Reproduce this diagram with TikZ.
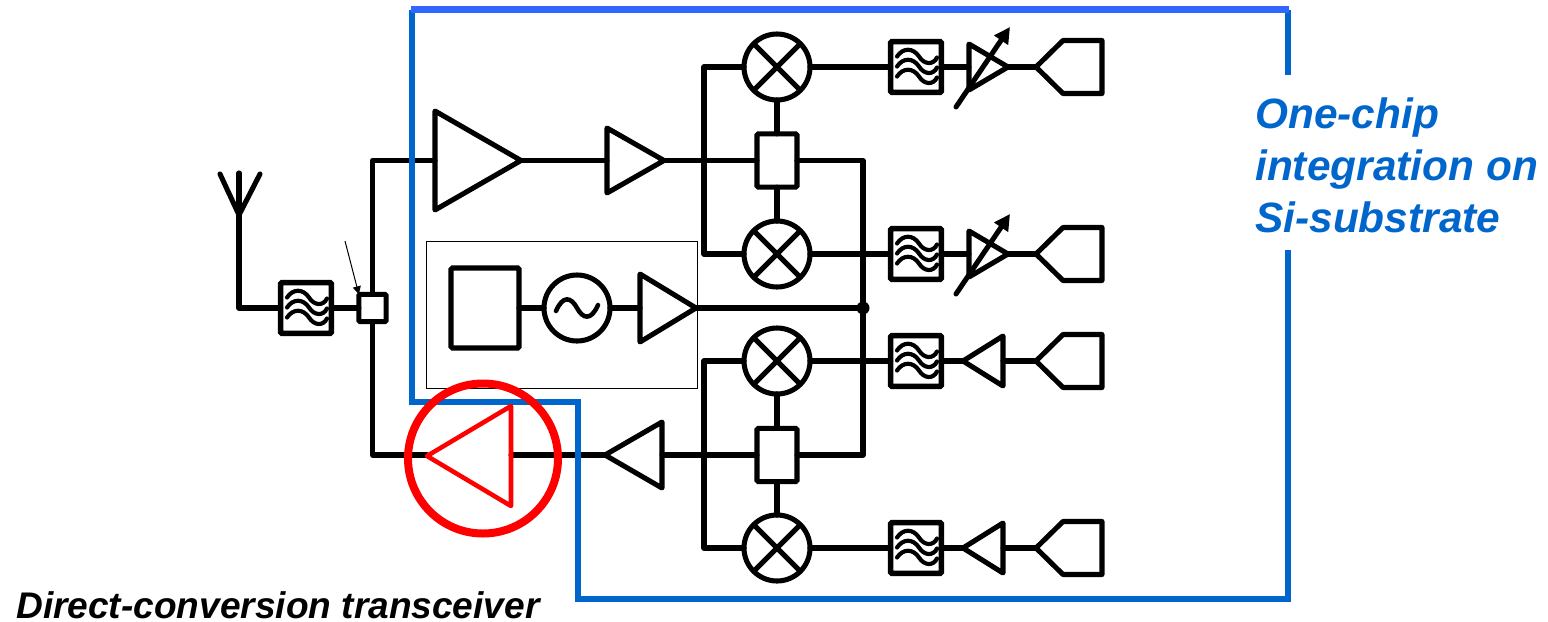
\documentclass[tikz,border=0pt]{standalone}
\usepackage{fontspec}
\setmainfont{Liberation Sans}
\usetikzlibrary{arrows.meta,calc}
\definecolor{chipblue}{HTML}{0066CC}
\definecolor{topblue}{HTML}{3366FF}
\definecolor{hotred}{HTML}{FF0000}
\tikzset{
  x=0.75pt,y=-0.75pt,
  wire/.style={draw=black,line width=3.8pt,line join=round,line cap=round},
  redwire/.style={draw=hotred,line width=3.4pt,line join=round,line cap=round},
  squarebox/.style={draw=black,line width=3.8pt,rounded corners=1pt,inner sep=0pt,outer sep=0pt},
  filterbox/.style={squarebox,line width=4.2pt,minimum width=38pt,minimum height=38pt},
  mixer/.style={circle,draw=black,line width=3.8pt,minimum size=49.5pt,inner sep=0pt,outer sep=0pt},
  chipframe/.style={draw=chipblue,line width=4.2pt,line join=miter},
  wave/.style={draw=black,line width=3.1pt,line cap=round},
  bluetext/.style={text=chipblue,font=\fontsize{31.8pt}{36pt}\selectfont\bfseries\itshape,anchor=base west,inner sep=0pt},
  caption/.style={text=black,font=\fontsize{27.8pt}{32pt}\selectfont\bfseries\itshape,anchor=base west,inner sep=0pt},
}
\newcommand{\ampshape}[6][wire]{%
  \draw[#1] (#3,#6-#4) -- (#5,#6) -- (#3,#6+#4) -- cycle;
  \coordinate (#2-b) at (#3,#6);
  \coordinate (#2-t) at (#5,#6);
}
\newcommand{\portshape}[2]{%
  \draw[wire] (1036,#2) -- (1063,#2-26.5) -- (1102,#2-26.5) -- (1102,#2+26.5) -- (1063,#2+26.5) -- cycle;
  \coordinate (#1) at (1036,#2);
}
\newcommand{\filtershape}[3]{%
  \node[filterbox] (#1) at (#2,#3) {};
  \foreach \dy in {-10.5,-0.5,9.5}{
    \draw[wave] ($(#1)+(-19,\dy)$) .. controls ($(#1)+(-13,\dy-9)$) and ($(#1)+(-3,\dy-9)$) .. ($(#1)+(3,\dy)$)
       .. controls ($(#1)+(8,\dy+8)$) and ($(#1)+(17,\dy+9)$) .. ($(#1)+(21,\dy+1)$);
  }
}
\newcommand{\mixershape}[3]{%
  \node[mixer] (#1) at (#2,#3) {};
  \draw[wire] (#1.45) -- (#1.225);
  \draw[wire] (#1.135) -- (#1.315);
}
\begin{document}
\begin{tikzpicture}
\useasboundingbox (0,0) rectangle (1548,621);
% local oscillator group
\node[draw=black,line width=0.75pt,minimum width=203.25pt,minimum height=110.25pt,inner sep=0pt,outer sep=0pt] (logroup) at (561.5,314.5) {};
% mixers
\mixershape{m1}{777}{67}
\mixershape{m2}{777}{254}
\mixershape{m3}{777}{361}
\mixershape{m4}{777}{548}
% hybrid boxes
\node[squarebox,minimum width=30pt,minimum height=40pt] (hy1) at (777,160.5) {};
\node[squarebox,minimum width=30pt,minimum height=40pt] (hy2) at (777,455) {};
% filters
\filtershape{f0}{306}{308}
\filtershape{f1}{916}{67}
\filtershape{f2}{916}{254}
\filtershape{f3}{916}{361}
\filtershape{f4}{916}{548}
% ports
\portshape{p1}{67}
\portshape{p2}{254}
\portshape{p3}{361}
\portshape{p4}{548}
% amplifiers
\ampshape{lna}{435}{49.5}{521}{160.5}
\ampshape{drv}{607}{32.5}{664}{160.5}
\ampshape{loa}{640}{34}{696}{308}
\ampshape{txd}{662}{33}{605}{455}
\ampshape{b3}{1003}{25}{963}{361}
\ampshape{b4}{1003}{25}{963}{548}
\ampshape{v1}{969}{23}{1008}{67}
\ampshape{v2}{969}{23}{1008}{254}
% gain arrows of the variable amplifiers
\coordinate (v1a) at (956,107);
\coordinate (v1e) at (1010,27);
\coordinate (v2a) at (956,294);
\coordinate (v2e) at (1010,214);
\draw[wire,-{Triangle[length=12pt,width=12pt]}] (v1a) -- (v1e);
\draw[wire,-{Triangle[length=12pt,width=12pt]}] (v2a) -- (v2e);
% antenna
\coordinate (antfoot) at (239,215);
\coordinate (antmid) at (239,173);
\coordinate (antl) at (220,174);
\coordinate (antr) at (260,174);
\coordinate (antcorner) at (239,308);
\draw[wire] (antl) -- (antfoot) -- (antr);
\draw[wire] (antmid) -- (antcorner) -- (f0.west);
% duplexer / switch
\node[squarebox,minimum width=20.5pt,minimum height=20.5pt] (sw) at (372.5,308) {};
\coordinate (swlabel) at (345,241);
\draw[line width=0.75pt,-{Triangle[length=6pt,width=6pt]}] (swlabel) -- (sw.north west);
\draw[wire] (f0.east) -- (sw.west);
\draw[wire] (sw.north) |- (lna-b);
\draw[wire] (lna-t) -- (drv-b);
\draw[wire] (drv-t) -- (hy1.west);
% I/Q distribution
\coordinate (rxsplit) at (704,160.5);
\coordinate (txsplit) at (704,455);
\coordinate (lobus) at (863,308);
\draw[wire] (m1.west) -| (rxsplit) |- (m2.west);
\draw[wire] (m3.west) -| (txsplit) |- (m4.west);
\draw[wire] (hy1.north) -- (m1.south);
\draw[wire] (hy1.south) -- (m2.north);
\draw[wire] (hy2.north) -- (m3.south);
\draw[wire] (hy2.south) -- (m4.north);
\draw[wire] (hy1.east) -| (lobus) |- (hy2.east);
\draw[wire] (m1.east) -- (f1.west);
\draw[wire] (m2.east) -- (f2.west);
\draw[wire] (m3.east) -- (f3.west);
\draw[wire] (m4.east) -- (f4.west);
\draw[wire] (f1.east) -- (v1-b);
\draw[wire] (f2.east) -- (v2-b);
\draw[wire] (f3.east) -- (b3-t);
\draw[wire] (f4.east) -- (b4-t);
\draw[wire] (v1-t) -- (p1);
\draw[wire] (v2-t) -- (p2);
\draw[wire] (b3-b) -- (p3);
\draw[wire] (b4-b) -- (p4);
% LO chain
\node[squarebox,minimum width=51pt,minimum height=60pt] (pll) at (485,308) {};
\node[circle,draw=black,line width=3.8pt,minimum size=49.5pt,inner sep=0pt,outer sep=0pt] (vco) at (577,308) {};
\draw[line width=3.4pt,line cap=round] ($(vco)+(-21,3)$) .. controls ($(vco)+(-14,-13)$) and ($(vco)+(-6,-11)$) .. (vco.center) .. controls ($(vco)+(6,11)$) and ($(vco)+(14,13)$) .. ($(vco)+(21,-3)$);
\draw[wire] (pll.east) -- (vco.west);
\draw[wire] (vco.east) -- (loa-b);
\draw[wire] (loa-t) -- (lobus);
\fill[black] (lobus) circle[radius=6.5];
% transmit path
\coordinate (patip) at (427,455);
\coordinate (pabase) at (511,455);
\draw[wire] (hy2.west) -- (txd-b);
\draw[wire] (txd-t) -- (pabase);
\draw[wire] (sw.south) |- (patip);
% chip outline
\coordinate (fa) at (1288,75);
\coordinate (fb) at (1288,10);
\coordinate (fc) at (412,10);
\coordinate (fd) at (412,402);
\coordinate (fe) at (578,402);
\coordinate (ff) at (578,599);
\coordinate (fg) at (1288,599);
\coordinate (fh) at (1288,250);
\draw[chipframe] (fa) -- (fb);
\draw[chipframe] (fc) -- (fd) -- (fe) -- (ff) -- (fg) -- (fh);
\draw[draw=topblue,line width=4.6pt] ($(fc)+(-1,-0.5)$) -- ($(fb)+(1,-0.5)$);
% highlight
\ampshape[redwire]{pa}{511}{50}{427}{456}
\node[circle,draw=hotred,line width=6pt,minimum size=112.5pt,inner sep=0pt,outer sep=0pt] (focus) at (483,458.5) {};
% texts
\node[bluetext] (t1) at (1255,128.5) {One-chip};
\node[bluetext] (t2) at (1255,180) {integration on};
\node[bluetext] (t3) at (1255,232) {Si-substrate};
\node[caption] (cap) at (16,618.5) {Direct-conversion transceiver};
\end{tikzpicture}
\end{document}
